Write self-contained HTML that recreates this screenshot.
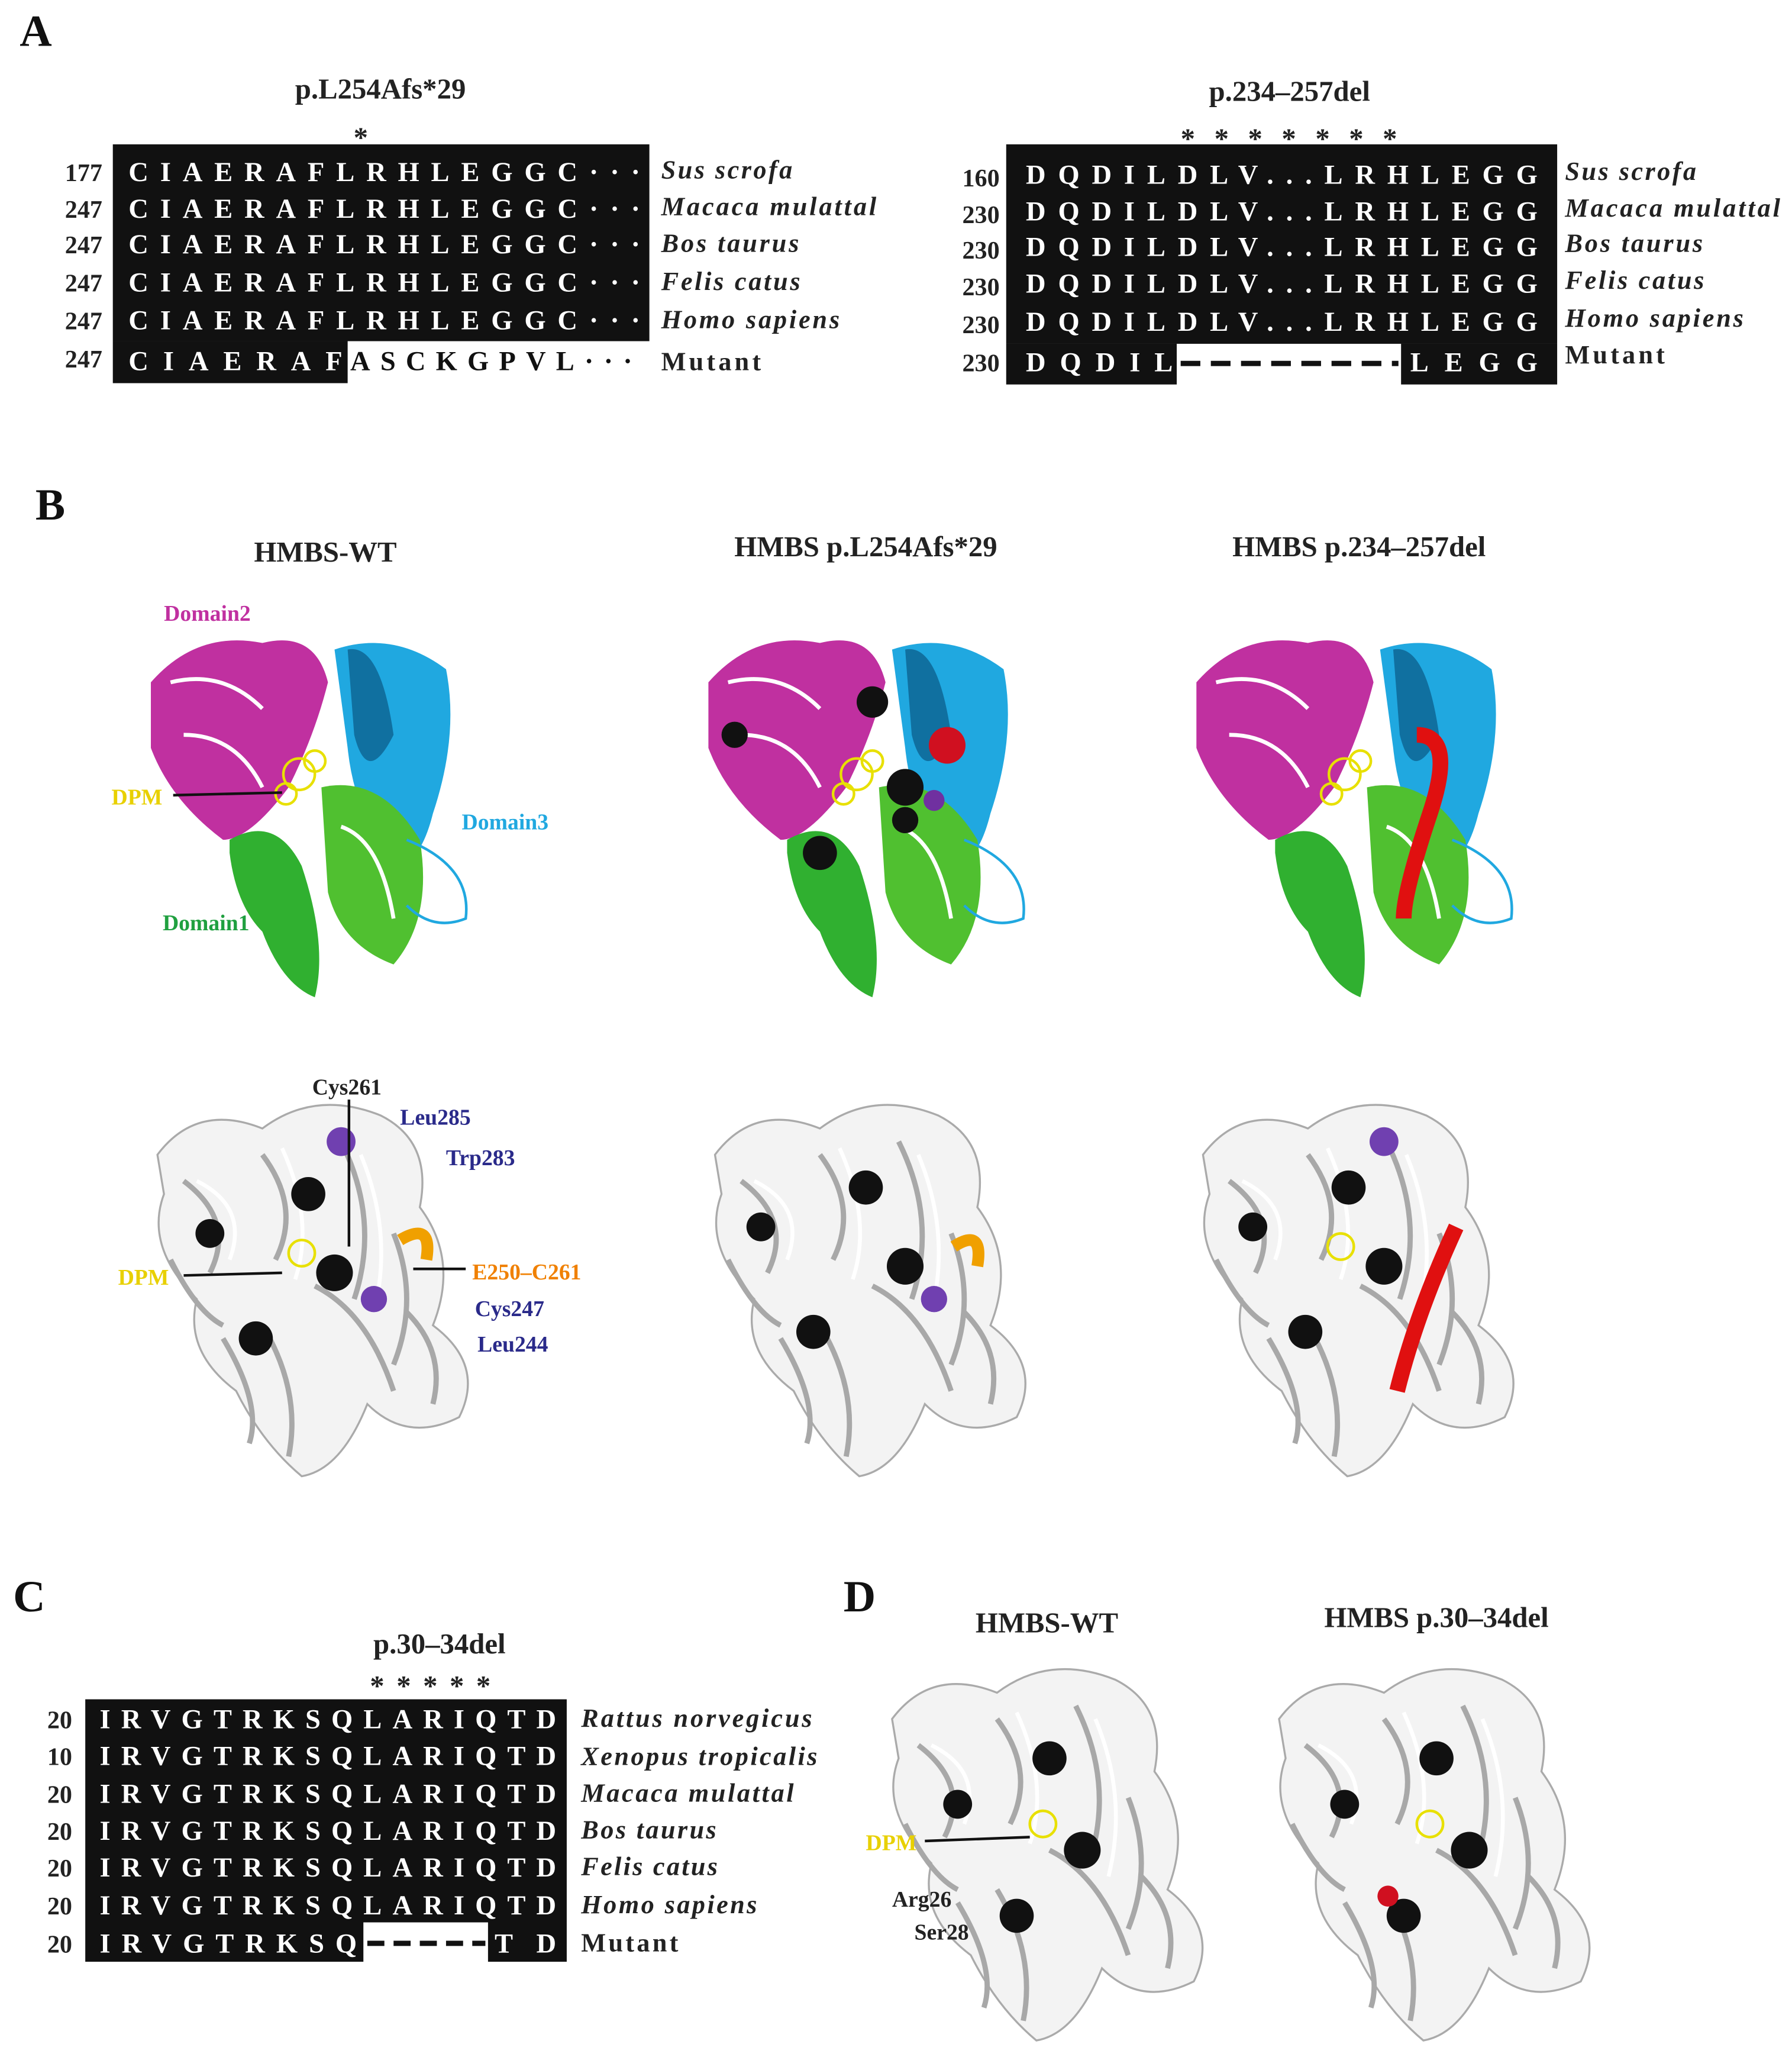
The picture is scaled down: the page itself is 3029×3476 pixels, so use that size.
<!DOCTYPE html>
<html><head><meta charset="utf-8"><style>
html,body{margin:0;padding:0;background:#fff}
svg{display:block}
text{font-family:"Liberation Serif",serif;font-weight:bold}
.seq{font-size:21px;fill:#fff}
.num{font-size:19px;fill:#222}
.sp{font-size:20px;font-style:italic;fill:#222}
.tt{font-size:22px;fill:#222}
.pl{font-size:34px;fill:#111}
.lb{font-size:17px}
</style></head><body>
<svg width="3029" height="3476" viewBox="0 0 1366 1567.6" xmlns="http://www.w3.org/2000/svg">
<defs>
<g id="grey">
<path d="M120 880 Q150 840 200 860 Q240 830 290 850 Q330 870 320 920 Q350 960 330 1010 Q370 1040 350 1080 Q310 1100 280 1070 Q260 1120 230 1125 Q200 1100 180 1060 Q140 1030 150 990 Q110 950 125 910 Z" fill="#f3f3f3" stroke="#aaaaaa" stroke-width="1.5"/>
<path d="M140 900 Q180 930 160 970 M200 880 Q230 920 210 960 M260 870 Q290 930 270 990 M300 940 Q320 990 300 1040 M200 1010 Q230 1060 220 1110 M170 1020 Q200 1070 190 1100 M240 980 Q280 1000 300 1060 M130 960 Q150 1000 170 1010 M310 1000 Q340 1030 330 1070" fill="none" stroke="#a8a8a8" stroke-width="4"/>
<path d="M150 900 Q190 920 175 960 M215 875 Q240 930 225 975 M275 880 Q300 940 285 1000" fill="none" stroke="#fff" stroke-width="3"/>
</g>
</defs>

<!-- Panel A -->
<text x="15" y="35" class="pl">A</text>
<text x="290" y="75" class="tt" text-anchor="middle">p.L254Afs*29</text>
<text x="275" y="112" class="tt" text-anchor="middle">*</text>
<rect x="86" y="110" width="409" height="150" fill="#111"/>
<rect x="86" y="260" width="179" height="32" fill="#111"/>
<g class="num" text-anchor="end">
<text x="78" y="138">177</text><text x="78" y="166">247</text><text x="78" y="193">247</text><text x="78" y="222">247</text><text x="78" y="251">247</text><text x="78" y="280">247</text></g>
<g class="seq">
<text x="98" y="138" textLength="390">CIAERAFLRHLEGGC···</text>
<text x="98" y="166" textLength="390">CIAERAFLRHLEGGC···</text>
<text x="98" y="193" textLength="390">CIAERAFLRHLEGGC···</text>
<text x="98" y="222" textLength="390">CIAERAFLRHLEGGC···</text>
<text x="98" y="251" textLength="390">CIAERAFLRHLEGGC···</text>
<text x="98" y="282" textLength="163">CIAERAF</text>
<text x="267" y="282" textLength="215" style="fill:#111">ASCKGPVL···</text></g>
<g class="sp"><text x="504" y="136" textLength="100">Sus scrofa</text><text x="504" y="164" textLength="164">Macaca mulattal</text><text x="504" y="192" textLength="105">Bos taurus</text><text x="504" y="221" textLength="106">Felis catus</text><text x="504" y="250" textLength="136">Homo sapiens</text><text x="504" y="282" style="font-style:normal" textLength="76">Mutant</text></g>

<text x="983" y="77" class="tt" text-anchor="middle">p.234–257del</text>
<text x="900" y="113" class="tt" textLength="165">*******</text>
<rect x="767" y="110" width="420" height="152" fill="#111"/>
<rect x="767" y="262" width="130" height="31" fill="#111"/>
<rect x="1068" y="262" width="119" height="31" fill="#111"/>
<g class="num" text-anchor="end">
<text x="762" y="142">160</text><text x="762" y="170">230</text><text x="762" y="197">230</text><text x="762" y="225">230</text><text x="762" y="254">230</text><text x="762" y="283">230</text></g>
<g class="seq">
<text x="782" y="140" textLength="390">DQDILDLV...LRHLEGG</text>
<text x="782" y="168" textLength="390">DQDILDLV...LRHLEGG</text>
<text x="782" y="195" textLength="390">DQDILDLV...LRHLEGG</text>
<text x="782" y="223" textLength="390">DQDILDLV...LRHLEGG</text>
<text x="782" y="252" textLength="390">DQDILDLV...LRHLEGG</text>
<text x="782" y="283" textLength="112">DQDIL</text>
<text x="1075" y="283" textLength="97">LEGG</text></g>
<line x1="900" y1="277" x2="1066" y2="277" stroke="#111" stroke-width="4" stroke-dasharray="15,8"/>
<g class="sp"><text x="1193" y="137" textLength="100">Sus scrofa</text><text x="1193" y="165" textLength="164">Macaca mulattal</text><text x="1193" y="192" textLength="105">Bos taurus</text><text x="1193" y="220" textLength="106">Felis catus</text><text x="1193" y="249" textLength="136">Homo sapiens</text><text x="1193" y="277" style="font-style:normal" textLength="76">Mutant</text></g>

<!-- Panel B -->
<text x="27" y="396" class="pl">B</text>
<text x="248" y="428" class="tt" text-anchor="middle">HMBS-WT</text>
<text x="660" y="424" class="tt" text-anchor="middle">HMBS p.L254Afs*29</text>
<text x="1036" y="424" class="tt" text-anchor="middle">HMBS p.234–257del</text>

<g id="wtc">
<path d="M115 520 Q150 480 200 490 Q240 480 250 520 Q240 560 220 600 Q190 640 170 640 Q130 610 115 570 Z" fill="#c030a0"/>
<path d="M130 520 Q170 510 200 540 M140 560 Q180 560 200 600" fill="none" stroke="#fff" stroke-width="3"/>
<path d="M255 495 Q300 480 340 510 Q350 560 330 620 Q320 660 300 660 Q270 620 265 570 Z" fill="#20a8e0"/>
<path d="M265 495 Q290 490 300 560 Q280 600 270 560 Z" fill="#1070a0"/>
<path d="M175 640 Q210 620 230 660 Q250 720 240 760 Q215 750 200 710 Q180 690 175 650 Z" fill="#30b030"/>
<path d="M245 600 Q290 590 320 640 Q330 700 300 735 Q260 720 250 680 Z" fill="#50c030"/>
<path d="M260 630 Q290 640 300 700" fill="none" stroke="#fff" stroke-width="3"/>
<path d="M310 640 Q360 660 355 700 Q330 710 310 690" fill="none" stroke="#20a8e0" stroke-width="2"/>
<g stroke="#e8e000" stroke-width="2" fill="none"><circle cx="228" cy="590" r="12"/><circle cx="218" cy="605" r="8"/><circle cx="240" cy="580" r="8"/></g>
</g>
<text x="125" y="473" class="lb" fill="#c030a0">Domain2</text>
<text x="352" y="632" class="lb" fill="#20a8e0">Domain3</text>
<text x="124" y="709" class="lb" fill="#20a040">Domain1</text>
<text x="85" y="613" class="lb" fill="#e8d000">DPM</text>
<line x1="132" y1="606" x2="215" y2="604" stroke="#111" stroke-width="2"/>

<use href="#wtc" transform="translate(425,0)"/>
<g fill="#111"><circle cx="665" cy="535" r="12"/><circle cx="560" cy="560" r="10"/><circle cx="690" cy="600" r="14"/><circle cx="625" cy="650" r="13"/><circle cx="690" cy="625" r="10"/></g>
<circle cx="722" cy="568" r="14" fill="#d01020"/><circle cx="712" cy="610" r="8" fill="#7030a0"/>

<use href="#wtc" transform="translate(797,0)"/>
<path d="M1080 560 Q1110 560 1090 620 Q1070 680 1070 700" fill="none" stroke="#e01010" stroke-width="12"/>

<use href="#grey"/>
<use href="#grey" transform="translate(425,0)"/>
<use href="#grey" transform="translate(797,0)"/>
<g fill="#111">
<circle cx="235" cy="910" r="13"/><circle cx="160" cy="940" r="11"/><circle cx="255" cy="970" r="14"/><circle cx="195" cy="1020" r="13"/>
<circle cx="660" cy="905" r="13"/><circle cx="580" cy="935" r="11"/><circle cx="690" cy="965" r="14"/><circle cx="620" cy="1015" r="13"/>
<circle cx="1028" cy="905" r="13"/><circle cx="955" cy="935" r="11"/><circle cx="1055" cy="965" r="14"/><circle cx="995" cy="1015" r="13"/></g>
<g fill="#7040b0"><circle cx="260" cy="870" r="11"/><circle cx="285" cy="990" r="10"/><circle cx="712" cy="990" r="10"/><circle cx="1055" cy="870" r="11"/></g>
<path d="M305 945 Q330 930 325 960" fill="none" stroke="#f0a000" stroke-width="9"/>
<path d="M727 950 Q750 935 745 965" fill="none" stroke="#f0a000" stroke-width="9"/>
<path d="M1110 935 Q1080 1000 1065 1060" fill="none" stroke="#e01010" stroke-width="12"/>
<circle cx="230" cy="955" r="10" fill="none" stroke="#e8e000" stroke-width="2"/><circle cx="1022" cy="950" r="10" fill="none" stroke="#e8e000" stroke-width="2"/>
<text x="238" y="834" class="lb" fill="#222">Cys261</text>
<line x1="266" y1="838" x2="266" y2="950" stroke="#111" stroke-width="2"/>
<text x="305" y="857" class="lb" fill="#2a2a8a">Leu285</text>
<text x="340" y="888" class="lb" fill="#2a2a8a">Trp283</text>
<text x="90" y="979" class="lb" fill="#e8d000">DPM</text>
<line x1="140" y1="972" x2="215" y2="970" stroke="#111" stroke-width="2"/>
<line x1="315" y1="967" x2="355" y2="967" stroke="#111" stroke-width="2"/>
<text x="360" y="975" class="lb" fill="#f08000">E250–C261</text>
<text x="362" y="1003" class="lb" fill="#2a2a8a">Cys247</text>
<text x="364" y="1030" class="lb" fill="#2a2a8a">Leu244</text>

<!-- Panel C -->
<text x="10" y="1228" class="pl">C</text>
<text x="335" y="1260" class="tt" text-anchor="middle">p.30–34del</text>
<text x="282" y="1292" class="tt" textLength="92">*****</text>
<rect x="65" y="1295" width="367" height="170" fill="#111"/>
<rect x="65" y="1465" width="212" height="30" fill="#111"/>
<rect x="372" y="1465" width="60" height="30" fill="#111"/>
<g class="num" text-anchor="end">
<text x="55" y="1317">20</text><text x="55" y="1345">10</text><text x="55" y="1374">20</text><text x="55" y="1402">20</text><text x="55" y="1430">20</text><text x="55" y="1459">20</text><text x="55" y="1488">20</text></g>
<g class="seq">
<text x="76" y="1317" textLength="348">IRVGTRKSQLARIQTD</text>
<text x="76" y="1345" textLength="348">IRVGTRKSQLARIQTD</text>
<text x="76" y="1374" textLength="348">IRVGTRKSQLARIQTD</text>
<text x="76" y="1402" textLength="348">IRVGTRKSQLARIQTD</text>
<text x="76" y="1430" textLength="348">IRVGTRKSQLARIQTD</text>
<text x="76" y="1459" textLength="348">IRVGTRKSQLARIQTD</text>
<text x="76" y="1488" textLength="196">IRVGTRKSQ</text>
<text x="377" y="1488" textLength="47">TD</text></g>
<line x1="280" y1="1481" x2="370" y2="1481" stroke="#111" stroke-width="4" stroke-dasharray="13,7"/>
<g class="sp"><text x="443" y="1316" textLength="176">Rattus norvegicus</text><text x="443" y="1345" textLength="180">Xenopus tropicalis</text><text x="443" y="1373" textLength="162">Macaca mulattal</text><text x="443" y="1401" textLength="103">Bos taurus</text><text x="443" y="1429" textLength="104">Felis catus</text><text x="443" y="1458" textLength="134">Homo sapiens</text><text x="443" y="1487" style="font-style:normal" textLength="74">Mutant</text></g>

<!-- Panel D -->
<text x="643" y="1228" class="pl">D</text>
<text x="798" y="1244" class="tt" text-anchor="middle">HMBS-WT</text>
<text x="1095" y="1240" class="tt" text-anchor="middle">HMBS p.30–34del</text>
<use href="#grey" transform="translate(560,430)"/>
<use href="#grey" transform="translate(855,430)"/>
<g fill="#111">
<circle cx="800" cy="1340" r="13"/><circle cx="730" cy="1375" r="11"/><circle cx="825" cy="1410" r="14"/><circle cx="775" cy="1460" r="13"/>
<circle cx="1095" cy="1340" r="13"/><circle cx="1025" cy="1375" r="11"/><circle cx="1120" cy="1410" r="14"/><circle cx="1070" cy="1460" r="13"/></g>
<circle cx="1058" cy="1445" r="8" fill="#d01020"/>
<circle cx="795" cy="1390" r="10" fill="none" stroke="#e8e000" stroke-width="2"/>
<circle cx="1090" cy="1390" r="10" fill="none" stroke="#e8e000" stroke-width="2"/>
<text x="660" y="1410" class="lb" fill="#e8d000">DPM</text>
<line x1="705" y1="1403" x2="785" y2="1400" stroke="#111" stroke-width="2"/>
<text x="680" y="1453" class="lb" fill="#222">Arg26</text>
<text x="697" y="1478" class="lb" fill="#222">Ser28</text>
</svg>
</body></html>
